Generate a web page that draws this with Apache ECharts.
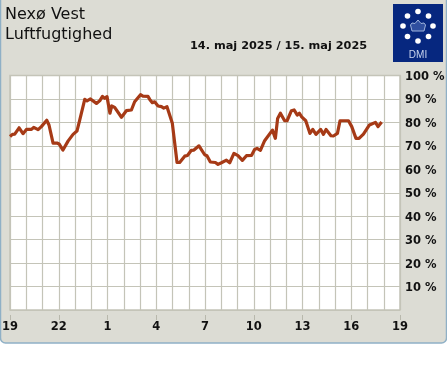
<!DOCTYPE html>
<html><head><meta charset="utf-8">
<style>html,body{margin:0;padding:0;background:#fff}#c{width:447px;height:370px}</style>
<script src="https://cdn.jsdelivr.net/npm/echarts@6/dist/echarts.min.js"></script>
</head><body><div id="c"></div>
<script>
const stationName = 'Nexø Vest';
const parameterName = 'Luftfugtighed';
const dateText = '14. maj 2025 / 15. maj 2025';
const hourTicks = ['19','22','1','4','7','10','13','16','19'];
const hoursSinceStart = [0,.15,.29,.56,.64,.8,1.01,1.32,1.46,1.73,1.93,2.26,2.4,2.65,2.89,3.02,3.26,3.37,3.57,3.88,4.12,4.29,4.6,4.74,4.95,5.32,5.52,5.69,5.83,5.97,6.15,6.26,6.44,6.86,7.16,7.47,7.67,8.03,8.18,8.49,8.6,8.76,8.9,9.11,9.32,9.46,9.66,9.99,10.28,10.44,10.75,10.92,11.16,11.32,11.63,11.98,12.12,12.33,12.64,12.8,13.01,13.32,13.52,13.78,14.03,14.3,14.55,14.86,15.06,15.2,15.41,15.67,16.15,16.33,16.47,16.64,16.9,17.05,17.32,17.48,17.68,17.81,17.95,18.2,18.46,18.63,18.83,19.12,19.29,19.45,19.75,19.9,20.15,20.31,20.83,21.03,21.29,21.48,21.75,21.85,22.12,22.26,22.49,22.65,22.87];
const humidity = [74,74.9,75,77.7,77.8,75.2,77,77,77.9,76.9,78.2,80.9,78.9,71.2,71.2,70.8,68.2,68.2,72,74.9,76.3,81,89.8,89.2,90,88.1,89.2,91.1,90.3,91,83.9,87,86.4,82.2,85,85.3,88.8,91.8,91.2,91.1,89.8,88.4,88.8,87,86.7,86.1,86.7,79.6,62.9,62.9,65.6,65.9,68.1,68.2,70,66.2,65.8,63.1,62.9,62.1,62.8,63.9,62.8,66.8,65.8,63.8,65.8,65.9,68.5,68.9,68.1,72.2,76.7,73.2,81.7,83.9,80.7,80.7,85,85.3,83.1,83.9,82.4,80.7,75.3,77,74.9,77,74.9,77,74.3,74.2,75.3,80.7,80.7,78.2,73.2,73.2,75,74.2,78.9,79.3,80,78.2,80.2];

const gridColor = '#c4c4b8';
const labelFont = {color:'#111', fontFamily:'DejaVu Sans', fontWeight:'bold', fontSize:11.5};
const logoDots = [[418,11.5],[428.5,16],[433,26],[428.5,36.5],[418,41],[407.5,36.5],[403,26],[407.5,16]];
const crownOutline = [[412,31],[424,31],[425.5,25],[424,23],[421,23.5],[418,20],[415,23.5],[412,23],[410.5,25]];

const chart = echarts.init(document.getElementById('c'), null, {renderer:'canvas'});
chart.setOption({
  animation:false,
  backgroundColor:'#fff',
  graphic:[
    {type:'rect', z:-10, silent:true, shape:{x:.5,y:-6,width:446,height:349,r:[6,6,5,5]}, style:{fill:'#dcdcd4',stroke:'#8fb0c6',lineWidth:1.5}},
    {type:'rect', z:-9, silent:true, shape:{x:393,y:4,width:50,height:58}, style:{fill:'#06277f'}},
    ...logoDots.map(d=>({type:'circle', z:-8, silent:true, shape:{cx:d[0],cy:d[1],r:2.8}, style:{fill:'#fff'}})),
    {type:'polygon', z:-8, silent:true, shape:{points:crownOutline}, style:{fill:'#2f4f9f',stroke:'#9fb4dc',lineWidth:1}},
    {type:'text', z:-8, silent:true, style:{x:418,y:55,text:'DMI',fill:'#c9d5ee',fontFamily:'Liberation Sans',fontSize:10,align:'center',verticalAlign:'middle'}},
    {type:'text', silent:true, style:{x:5,y:15,text:stationName,fill:'#111',fontFamily:'DejaVu Sans',fontSize:16,verticalAlign:'middle'}},
    {type:'text', silent:true, style:{x:5,y:35,text:parameterName,fill:'#111',fontFamily:'DejaVu Sans',fontSize:16,verticalAlign:'middle'}},
    {type:'text', silent:true, style:{x:190,y:46.5,text:dateText,fill:'#111',fontFamily:'DejaVu Sans',fontWeight:'bold',fontSize:11.3,verticalAlign:'middle'}}
  ],
  grid:{left:10,right:47,top:75.5,height:234.5,outerBoundsMode:'none',show:true,backgroundColor:'#fff',borderColor:gridColor,borderWidth:1.5},
  xAxis:[
    {type:'value',min:0,max:24,interval:1,
      axisLine:{show:false},axisTick:{show:false},axisLabel:{show:false},
      splitLine:{show:true,lineStyle:{color:gridColor,width:1.2}}},
    {type:'value',position:'bottom',offset:5,min:0,max:24,interval:3,
      axisLine:{show:true,lineStyle:{color:'rgba(0,0,0,0)'}},splitLine:{show:false},
      axisTick:{show:true,length:5,lineStyle:{color:'#b8b8ac',width:1}},
      axisLabel:{...labelFont,margin:6,hideOverlap:false,showMinLabel:true,showMaxLabel:true,
        formatter:v=>hourTicks[Math.round(v/3)]}}
  ],
  yAxis:{type:'value',position:'right',min:0,max:100,interval:10,
    axisLine:{show:false},axisTick:{show:false},
    axisLabel:{...labelFont,margin:5,verticalAlign:'top',lineHeight:3,showMinLabel:false,showMaxLabel:true,formatter:v=>v===0?'':v+' %'},
    splitLine:{show:true,lineStyle:{color:gridColor,width:1.2}}},
  series:[{type:'line',xAxisIndex:0,showSymbol:false,symbol:'none',clip:false,
    data:hoursSinceStart.map((h,i)=>[h,humidity[i]]),
    lineStyle:{color:'#a63a16',width:3.2,join:'round'}}]
});
</script></body></html>
